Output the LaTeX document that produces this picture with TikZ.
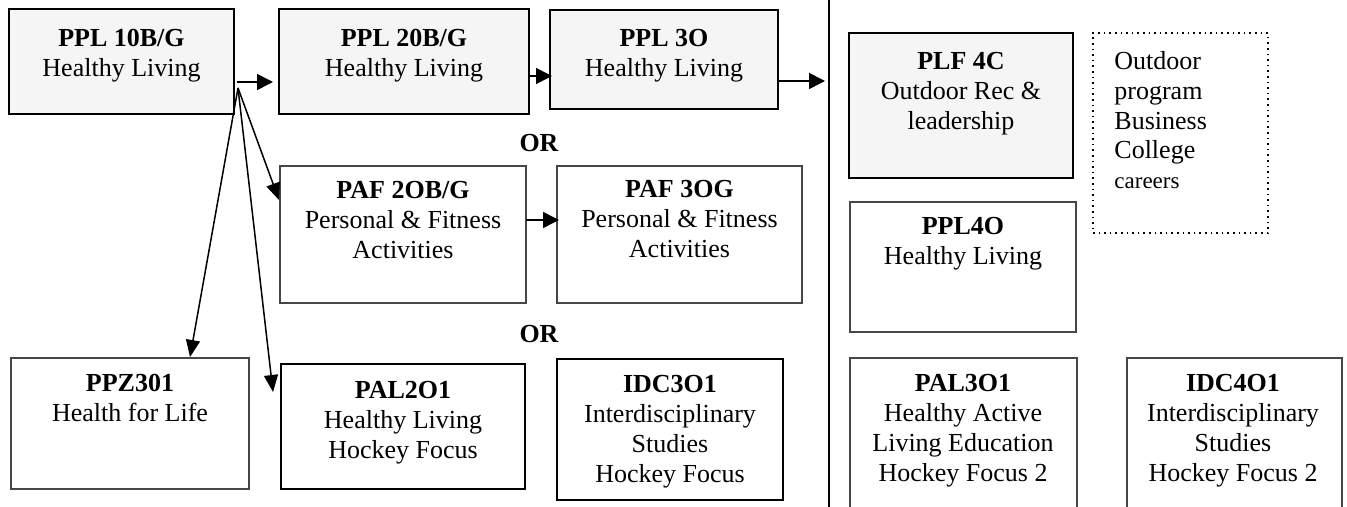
\documentclass[tikz,border=0pt]{standalone}
\usepackage{fontspec}
\setmainfont{Liberation Serif}
\usetikzlibrary{arrows.meta,fit,calc}
\definecolor{boxfill}{RGB}{245,245,245}
\definecolor{thinline}{RGB}{70,70,70}
\begin{document}
\begin{tikzpicture}[x=0.5pt,y=-0.5pt,
  boxbase/.style={rectangle, inner sep=0pt, outer sep=0pt},
  thickbox/.style={boxbase, draw=black, line width=1.4pt, fill=boxfill},
  thickwhite/.style={boxbase, draw=black, line width=1.4pt},
  thinbox/.style={boxbase, draw=thinline, line width=0.55pt},
  dotbox/.style={boxbase, draw=black, line width=0.8pt, dotted},
  txt/.style={anchor=north, inner sep=0pt, align=center, font=\fontsize{13}{14.9}\selectfont},
  ortxt/.style={anchor=north, inner sep=0pt, font=\fontsize{13}{14.9}\selectfont\bfseries},
  harr/.style={-{Triangle[length=8pt,width=8pt]}, line width=0.8pt},
  darr/.style={-{Triangle[length=8.5pt,width=7pt]}, line width=0.75pt},
]
\useasboundingbox (0,0) rectangle (1347,507);
\clip (0,0) rectangle (1347,507);

% boxes
\node[thickbox, fit={(9,9) (234,114)}] (p10) {};
\node[thickbox, fit={(279,9) (529,114)}] (p20) {};
\node[thickbox, fit={(550,10) (778,109)}] (p3o) {};
\node[thickbox, fit={(849,33) (1073,178)}] (plf) {};
\node[dotbox, fit={(1093,33) (1268,233)}] (outd) {};
\node[thinbox, fit={(850,202) (1076,332)}] (p4o) {};
\node[thinbox, fit={(850,358) (1077,530)}] (pal3) {};
\node[thinbox, fit={(1127,358) (1342,530)}] (idc4) {};
\node[thinbox, fit={(280,166) (526,303)}] (paf2) {};
\node[thinbox, fit={(557,166) (802,303)}] (paf3) {};
\node[thinbox, fit={(11,358) (249,489)}] (ppz) {};
\node[thickwhite, fit={(281,364) (525,489)}] (pal2) {};
\node[thickwhite, fit={(557,359) (783,500)}] (idc3) {};

% texts
\node[txt] (p10t) at (121.5,29) {\textbf{PPL 10B/G}\\Healthy Living};
\node[txt] (p20t) at (404,29) {\textbf{PPL 20B/G}\\Healthy Living};
\node[txt] (p3ot) at (664,29) {\textbf{PPL 3O}\\Healthy Living};
\node[ortxt] (or1) at (539,134) {OR};
\node[txt] (plft) at (961,52) {\textbf{PLF 4C}\\Outdoor Rec \&\\leadership};
\node[txt, align=left, anchor=north west] (outdt) at (1114,51) {Outdoor\\program\\Business\\College\\{\fontsize{11.5}{14}\selectfont careers}};
\node[txt] (p4ot) at (963,217) {\textbf{PPL4O}\\Healthy Living};
\node[txt] (paf2t) at (403,181) {\textbf{PAF 2OB/G}\\Personal \& Fitness\\Activities};
\node[txt] (paf3t) at (679.5,180) {\textbf{PAF 3OG}\\Personal \& Fitness\\Activities};
\node[ortxt] (or2) at (539,325) {OR};
\node[txt] (ppzt) at (130,374) {\textbf{PPZ301}\\Health for Life};
\node[txt] (pal2t) at (403,381) {\textbf{PAL2O1}\\Healthy Living\\Hockey Focus};
\node[txt] (idc3t) at (670,375) {\textbf{IDC3O1}\\Interdisciplinary\\Studies\\Hockey Focus};
\node[txt] (pal3t) at (963,374) {\textbf{PAL3O1}\\Healthy Active\\Living Education\\Hockey Focus 2};
\node[txt] (idc4t) at (1233,374) {\textbf{IDC4O1}\\Interdisciplinary\\Studies\\Hockey Focus 2};

% vertical divider
\coordinate (vt) at (829,0);
\coordinate (vb) at (829,507);
\draw[line width=1pt] (vt) -- (vb);

% arrows
\draw[harr] ([shift={(3,20.5)}]p10.east) -- ([shift={(-6,20.5)}]p20.west);
\draw[harr] ([shift={(1,14.5)}]p20.east) -- ([shift={(2,16.5)}]p3o.west);
\coordinate (p3end) at (825,81);
\draw[harr] ([shift={(0,21.5)}]p3o.east) -- (p3end);
\draw[harr] (paf2.east |- 0,220) -- ([xshift=1pt]paf3.west |- 0,220);

\coordinate (fork) at ([shift={(4,-26)}]p10.south east);
\draw[darr] (fork) -- ([shift={(-1,-34.5)}]paf2.west);
\draw[darr] (fork) -- ([shift={(60,-1)}]ppz.north);
\draw[darr] (fork) -- ([shift={(-8,-34.5)}]pal2.west);
\end{tikzpicture}
\end{document}
